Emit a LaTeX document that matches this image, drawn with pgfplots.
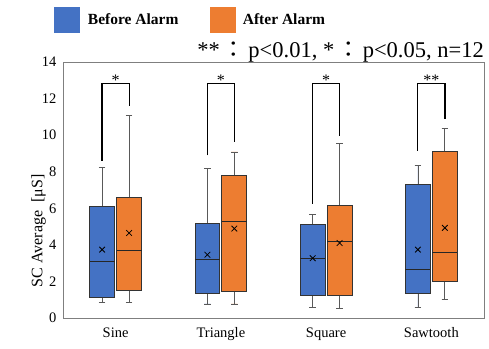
\documentclass[border=0pt]{standalone}
\usepackage{pgfplots}
\pgfplotsset{compat=1.18}
\usepgfplotslibrary{statistics}
\usepackage{fontspec}
\setmainfont{Liberation Serif}
\newfontfamily\cjk{Noto Sans CJK JP}
\definecolor{cblue}{HTML}{4472C4}
\definecolor{corange}{HTML}{ED7D31}
\definecolor{wgray}{HTML}{595959}
\definecolor{fgray}{HTML}{7F7F7F}
\newcommand{\fcolon}{\hspace{3bp}{\cjk ：}\hspace{3bp}}
\begin{document}
\begin{tikzpicture}
\useasboundingbox (-63bp,-31bp) rectangle (426bp,318bp);
\begin{axis}[
  scale only axis, width=421bp, height=256bp,
  at={(0,0)}, anchor=south west,
  clip=false,
  xmin=0.5, xmax=4.5, ymin=0, ymax=14,
  xtick={1,2,3,4}, xticklabels={Sine,Triangle,Square,Sawtooth},
  ytick={0,2,...,14},
  major tick length=0pt,
  axis line style={fgray, line width=0.8pt},
  /pgf/number format/assume math mode=true,
  tick label style={font=\fontsize{14.5bp}{16bp}\selectfont, black},
  yticklabel style={xshift=-3bp},
  xticklabel style={yshift=-6bp},
  ylabel={SC Average~ [μS]},
  every axis y label/.style={at={(ticklabel cs:0.5)}, rotate=90, anchor=center, xshift=-41bp, font=\fontsize{16bp}{18bp}\selectfont},
  boxplot/draw direction=y,
  boxplot/every whisker/.style={draw=wgray, line width=0.8pt},
  boxplot/every box/.style={draw=black!80, line width=0.8pt},
  boxplot/every median/.style={draw=black!85, line width=1pt},
  legend style={draw=none, fill=none, at={(axis description cs:-0.03,1.166)}, anchor=west,
    legend columns=2, font=\bfseries\fontsize{15.5bp}{17bp}\selectfont,
    /tikz/every even column/.append style={column sep=30bp}},
  legend cell align=left,
]
\addlegendimage{legend image code/.code={\fill[cblue] (0bp,-12.5bp) rectangle (25bp,12.5bp);}}
\addlegendentry{\hspace*{7bp}Before Alarm}
\addlegendimage{legend image code/.code={\fill[corange] (0bp,-12.5bp) rectangle (25bp,12.5bp);}}
\addlegendentry{\hspace*{5bp}After Alarm}

% Before Alarm boxes
\addplot[fill=cblue, boxplot prepared={draw position=0.872, lower whisker=0.84, lower quartile=1.12, median=3.09, upper quartile=6.11, upper whisker=8.22, box extend=0.237, whisker extend=0.06}] coordinates {};
\addplot[fill=cblue, boxplot prepared={draw position=1.872, lower whisker=0.77, lower quartile=1.36, median=3.19, upper quartile=5.20, upper whisker=8.19, box extend=0.237, whisker extend=0.06}] coordinates {};
\addplot[fill=cblue, boxplot prepared={draw position=2.872, lower whisker=0.57, lower quartile=1.21, median=3.24, upper quartile=5.14, upper whisker=5.64, box extend=0.237, whisker extend=0.06}] coordinates {};
\addplot[fill=cblue, boxplot prepared={draw position=3.872, lower whisker=0.59, lower quartile=1.36, median=2.64, upper quartile=7.29, upper whisker=8.35, box extend=0.237, whisker extend=0.06}] coordinates {};
% After Alarm boxes
\addplot[fill=corange, boxplot prepared={draw position=1.128, lower whisker=0.84, lower quartile=1.50, median=3.68, upper quartile=6.57, upper whisker=11.10, box extend=0.237, whisker extend=0.06}] coordinates {};
\addplot[fill=corange, boxplot prepared={draw position=2.128, lower whisker=0.77, lower quartile=1.45, median=5.30, upper quartile=7.80, upper whisker=9.08, box extend=0.237, whisker extend=0.06}] coordinates {};
\addplot[fill=corange, boxplot prepared={draw position=3.128, lower whisker=0.51, lower quartile=1.24, median=4.16, upper quartile=6.15, upper whisker=9.56, box extend=0.237, whisker extend=0.06}] coordinates {};
\addplot[fill=corange, boxplot prepared={draw position=4.128, lower whisker=1.03, lower quartile=2.00, median=3.59, upper quartile=9.10, upper whisker=10.38, box extend=0.237, whisker extend=0.06}] coordinates {};

% means
\addplot[only marks, mark=x, mark size=4bp, black, mark options={line width=0.8pt}] coordinates {
 (0.872,3.74) (1.872,3.46) (2.872,3.27) (3.872,3.74)
 (1.128,4.65) (2.128,4.89) (3.128,4.10) (4.128,4.93)};

% significance brackets
\addplot[black, line width=1.2pt] coordinates {(0.87,8.60) (0.87,12.84) (1.13,12.84) (1.13,11.57)};
\addplot[black, line width=1.2pt] coordinates {(1.87,8.90) (1.87,12.84) (2.13,12.84) (2.13,9.63)};
\addplot[black, line width=1.2pt] coordinates {(2.87,6.24) (2.87,12.84) (3.13,12.84) (3.13,9.96)};
\addplot[black, line width=1.2pt] coordinates {(3.87,9.14) (3.87,12.84) (4.13,12.84) (4.13,10.88)};
\node[font=\fontsize{16bp}{18bp}\selectfont, anchor=center] at (axis cs:1,13.0) {*};
\node[font=\fontsize{16bp}{18bp}\selectfont, anchor=center] at (axis cs:2,13.0) {*};
\node[font=\fontsize{16bp}{18bp}\selectfont, anchor=center] at (axis cs:3,13.0) {*};
\node[font=\fontsize{16bp}{18bp}\selectfont, anchor=center] at (axis cs:4,13.0) {**};

\node[anchor=base east, inner sep=0pt, yshift=4bp, font=\fontsize{22.5bp}{24bp}\selectfont] at (axis description cs:1,1) {**\fcolon p<0.01, *\fcolon p<0.05, n=12};
\end{axis}
\end{tikzpicture}
\end{document}
